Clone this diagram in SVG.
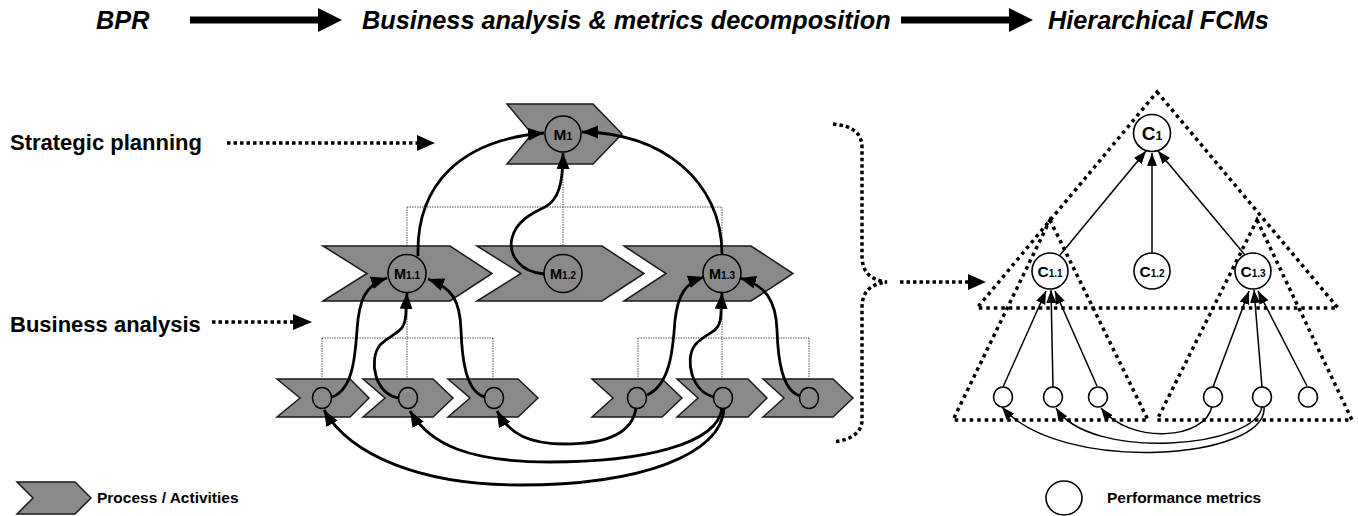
<svg xmlns="http://www.w3.org/2000/svg" width="1358" height="516" viewBox="0 0 1358 516">
<style>
.t{font-family:"Liberation Sans",Arial,sans-serif;font-weight:bold;fill:#000}
.hd{font-size:25.3px;font-style:italic}
.lb{font-size:22px}
.lg{font-size:15.5px}
.chev{fill:#898989;stroke:#1a1a1a;stroke-width:1.5;stroke-linejoin:miter}
.gc{fill:#898989;stroke:#000;stroke-width:1.5}
.wc{fill:#fff;stroke:#000;stroke-width:1.6}
.con{fill:none;stroke:#000;stroke-width:2.8}
.thin{fill:none;stroke:#000;stroke-width:1.5}
.dot{fill:none;stroke:#000;stroke-width:3.5;stroke-dasharray:3.5 3}
.tri{fill:none;stroke:#000;stroke-width:3.5;stroke-dasharray:3.5 4}
.hier{fill:none;stroke:#555;stroke-width:1;stroke-dasharray:1.5 1}
</style>
<defs>
<marker id="ah" markerUnits="userSpaceOnUse" markerWidth="17" markerHeight="14" refX="16" refY="6.5" orient="auto">
<path d="M0,0 L16,6.5 L0,13 Z" fill="#000"/>
</marker>
<marker id="as" markerUnits="userSpaceOnUse" markerWidth="14" markerHeight="11" refX="13" refY="5" orient="auto">
<path d="M0,0 L13,5 L0,10 Z" fill="#000"/>
</marker>
</defs>

<g id="header">
<text class="t hd" x="96" y="29">BPR</text>
<path d="M190,16.5 L318,16.5 L318,8 L342,20 L318,32 L318,23.5 L190,23.5 Z" fill="#000"/>
<text class="t hd" x="362" y="29">Business analysis &amp; metrics decomposition</text>
<path d="M901,16.5 L1009,16.5 L1009,8 L1033,20 L1009,32 L1009,23.5 L901,23.5 Z" fill="#000"/>
<text class="t hd" x="1048" y="29">Hierarchical FCMs</text>
</g>

<g id="level-labels">
<text class="t lb" x="10" y="150">Strategic planning</text>
<path class="dot" d="M227,143 L418,143"/>
<path d="M417,135 L435,143 L417,151 Z" fill="#000"/>
<text class="t lb" x="10" y="332">Business analysis</text>
<path class="dot" d="M212,322 L294,322"/>
<path d="M293,314 L312,322 L293,330 Z" fill="#000"/>
</g>

<g id="hierarchy-lines">
<path class="hier" d="M563,164 L563,246 M407,207 L722,207 M407,207 L407,246 M722,207 L722,246"/>
<path class="hier" d="M407,301 L407,379 M322,338 L493,338 M322,338 L322,379 M493,338 L493,379"/>
<path class="hier" d="M722,301 L722,379 M638,338 L809,338 M638,338 L638,379 M809,338 L809,379"/>
</g>

<g id="node-M1">
<path class="chev" d="M507,104 L593,104 L622,134 L593,164 L507,164 L532,134 Z"/>
<circle class="gc" cx="563" cy="134" r="18"/>
<text class="t" x="563" y="139.5" text-anchor="middle" font-size="15.5">M<tspan font-size="10.5">1</tspan></text>
</g>

<g id="node-M1.1">
<path class="chev" d="M323,246 L450,246 L492,273.5 L450,301 L323,301 L367,273.5 Z"/>
<circle class="gc" cx="407" cy="273.5" r="19"/>
<text class="t" x="407" y="278.5" text-anchor="middle" font-size="14.5">M<tspan font-size="10">1.1</tspan></text>
</g>

<g id="node-M1.2">
<path class="chev" d="M477,246 L602,246 L644,273.5 L602,301 L477,301 L521,273.5 Z"/>
<circle class="gc" cx="563" cy="273.5" r="19"/>
<text class="t" x="563" y="278.5" text-anchor="middle" font-size="14.5">M<tspan font-size="10">1.2</tspan></text>
</g>

<g id="node-M1.3">
<path class="chev" d="M624,246 L751,246 L793,273.5 L751,301 L624,301 L666,273.5 Z"/>
<circle class="gc" cx="722" cy="273.5" r="19"/>
<text class="t" x="722" y="278.5" text-anchor="middle" font-size="14.5">M<tspan font-size="10">1.3</tspan></text>
</g>

<g id="node-p1">
<path class="chev" d="M277,379 L350,379 L369,398 L350,417 L277,417 L300,398 Z"/>
<ellipse class="gc" cx="322" cy="398" rx="9.5" ry="10.5"/>
</g>
<g id="node-p2">
<path class="chev" d="M363,379 L433,379 L453,398 L433,417 L363,417 L385,398 Z"/>
<ellipse class="gc" cx="408" cy="398" rx="9.5" ry="10.5"/>
</g>
<g id="node-p3">
<path class="chev" d="M448,379 L518,379 L538,398 L518,417 L448,417 L470,398 Z"/>
<ellipse class="gc" cx="494" cy="398" rx="9.5" ry="10.5"/>
</g>
<g id="node-p4">
<path class="chev" d="M592,379 L662,379 L682,398 L662,417 L592,417 L613,398 Z"/>
<ellipse class="gc" cx="637" cy="398" rx="9.5" ry="10.5"/>
</g>
<g id="node-p5">
<path class="chev" d="M677,379 L748,379 L767,398 L748,417 L677,417 L698,398 Z"/>
<ellipse class="gc" cx="723" cy="398" rx="9.5" ry="10.5"/>
</g>
<g id="node-p6">
<path class="chev" d="M763,379 L833,379 L853,398 L833,417 L763,417 L784,398 Z"/>
<ellipse class="gc" cx="809" cy="398" rx="9.5" ry="10.5"/>
</g>

<g id="bracket">
<path class="dot" d="M833,124 C852,126 862,132 862,148 L862,255 C862,272 870,280 887,282 C870,284 862,292 862,308 L862,420 C862,432 852,440 833,442"/>
<path class="dot" d="M900,282 L969,282"/>
<path d="M968,274 L986,282 L968,290 Z" fill="#000"/>
</g>

<g id="fcm-triangles">
<path class="tri" d="M1157,92 L1338,308 L977,308 Z"/>
<path class="tri" d="M1050,220 L1148,420 L953,420 Z"/>
<path class="tri" d="M1257,220 L1352,420 L1157,420 Z"/>
</g>

<g id="connectors">
<path class="con" marker-end="url(#ah)" d="M418,256 C416,185 460,140 544,133"/>
<path class="con" marker-end="url(#ah)" d="M722,254 C722,180 660,132 582,132"/>
<path class="con" marker-end="url(#ah)" d="M544,274 C520,272 508,255 512,238 C516,222 530,214 545,207 C558,200 563,185 563,153"/>
<path class="con" marker-end="url(#ah)" d="M332,397 C352,390 355,360 357,330 C359,300 365,285 387,278"/>
<path class="con" marker-end="url(#ah)" d="M399,398 C375,395 368,360 380,345 C395,330 406,335 406,310 L407,293"/>
<path class="con" marker-end="url(#ah)" d="M485,397 C466,392 462,360 461,330 C460,300 452,288 428,279"/>
<path class="con" marker-end="url(#ah)" d="M647,395 C670,385 673,350 675,320 C678,295 685,283 704,277"/>
<path class="con" marker-end="url(#ah)" d="M714,397 C692,392 684,360 695,345 C708,330 721,335 721,312 L722,293"/>
<path class="con" marker-end="url(#ah)" d="M800,396 C782,390 778,360 777,330 C776,300 765,285 740,278"/>
<path class="con" marker-end="url(#ah)" d="M724,408 C722,455 640,485 520,485 C420,485 350,455 324,410"/>
<path class="con" marker-end="url(#ah)" d="M722,408 C718,445 640,462 550,462 C470,462 430,445 410,411"/>
<path class="con" marker-end="url(#ah)" d="M636,408 C632,436 600,444 565,444 C530,444 510,435 497,411"/>
<path class="thin" marker-end="url(#as)" d="M1060,255 L1146,151"/>
<path class="thin" marker-end="url(#as)" d="M1152,253 L1152,153"/>
<path class="thin" marker-end="url(#as)" d="M1245,255 L1158,151"/>
<path class="thin" marker-end="url(#as)" d="M1003,387 L1046,291"/>
<path class="thin" marker-end="url(#as)" d="M1053,387 L1051,290"/>
<path class="thin" marker-end="url(#as)" d="M1097,386 L1055,291"/>
<path class="thin" marker-end="url(#as)" d="M1213,387 L1249,291"/>
<path class="thin" marker-end="url(#as)" d="M1262,387 L1254,290"/>
<path class="thin" marker-end="url(#as)" d="M1307,386 L1258,291"/>
<path class="thin" marker-end="url(#as)" d="M1212,406 C1206,440 1130,445 1101,408"/>
<path class="thin" marker-end="url(#as)" d="M1262,406 C1258,448 1090,462 1056,408"/>
<path class="thin" marker-end="url(#as)" d="M1264,406 C1270,460 1060,475 1002,407"/>
</g>

<g id="node-C1">
<circle class="wc" cx="1152" cy="133" r="18.5"/>
<text class="t" x="1152" y="139.5" text-anchor="middle" font-size="19">C<tspan font-size="12.5">1</tspan></text>
</g>
<g id="node-C1.1">
<circle class="wc" cx="1050" cy="271" r="18"/>
<text class="t" x="1050" y="276.5" text-anchor="middle" font-size="15.5">C<tspan font-size="10">1.1</tspan></text>
</g>
<g id="node-C1.2">
<circle class="wc" cx="1152" cy="271" r="18"/>
<text class="t" x="1152" y="276.5" text-anchor="middle" font-size="15.5">C<tspan font-size="10">1.2</tspan></text>
</g>
<g id="node-C1.3">
<circle class="wc" cx="1253" cy="271" r="18"/>
<text class="t" x="1253" y="276.5" text-anchor="middle" font-size="15.5">C<tspan font-size="10">1.3</tspan></text>
</g>
<g id="node-pm1"><ellipse class="wc" cx="1003" cy="397" rx="9.5" ry="10"/></g>
<g id="node-pm2"><ellipse class="wc" cx="1053" cy="397" rx="9.5" ry="10"/></g>
<g id="node-pm3"><ellipse class="wc" cx="1098" cy="397" rx="9.5" ry="10"/></g>
<g id="node-pm4"><ellipse class="wc" cx="1213" cy="397" rx="9.5" ry="10"/></g>
<g id="node-pm5"><ellipse class="wc" cx="1262" cy="397" rx="9.5" ry="10"/></g>
<g id="node-pm6"><ellipse class="wc" cx="1308" cy="397" rx="9.5" ry="10"/></g>

<g id="legend">
<path class="chev" d="M17,482 L75,482 L91,498 L75,514 L17,514 L33,498 Z"/>
<text class="t lg" x="97" y="503">Process / Activities</text>
<ellipse class="wc" cx="1064" cy="498" rx="18" ry="17"/>
<text class="t lg" x="1107" y="503">Performance metrics</text>
</g>
</svg>
